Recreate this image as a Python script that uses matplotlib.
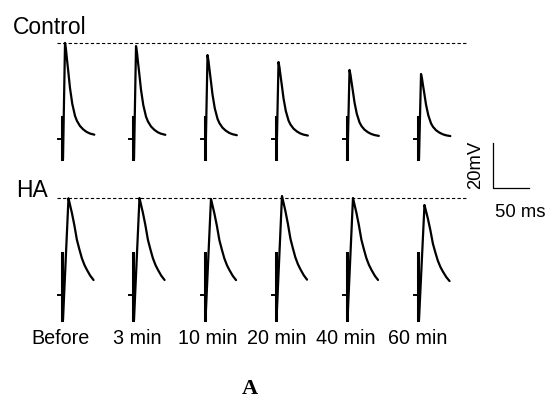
import numpy as np
import matplotlib.pyplot as plt

# --- data ---
conditions = ["Control", "HA"]
time_labels = ["Before", "3 min", "10 min", "20 min", "40 min", "60 min"]

# peak amplitude of each response (mV above baseline)
control_peak_mv = [42.7, 41.3, 37.3, 34.2, 30.7, 28.9]
ha_peak_mv = [43.0, 43.1, 42.7, 44.0, 43.1, 40.0]

# shape of the response after the stimulus: time (ms) and fraction of peak
control_t_ms = [3.5, 4.9, 6.3, 8.1, 10.4, 13.6, 17.4, 20.1, 24.3, 28.9, 33.6, 38.2, 44.2]
control_frac = [1.0, 0.927, 0.823, 0.698, 0.531, 0.365, 0.240, 0.188, 0.135,
                0.099, 0.073, 0.057, 0.045]
ha_t_ms = [8.3, 10.5, 13.0, 16.5, 20.0, 23.5, 26.9, 30.5, 33.9, 38.5, 43.1]
ha_frac = [1.0, 0.93, 0.85, 0.72, 0.57, 0.47, 0.38, 0.31, 0.26, 0.20, 0.155]

# stimulus artifact, top and bottom (mV from baseline)
control_artifact_mv = [9.8, -8.9]
ha_artifact_mv = [18.7, -11.0]

scale_mv = 20
scale_ms = 50

# --- layout (pixel positions on a 545x399 canvas) ---
W, H = 545, 399
MS_PER_PX = 50 / 36.0
MV_PER_PX = 20 / 45.0
trace_x_px = [62.5, 133.5, 205, 276, 347, 418.5]
label_x_px = [60.5, 137, 208, 276.5, 345.5, 418]
row_base_px = [139, 295]


def px(x, y):
    return x * MS_PER_PX, -y * MV_PER_PX


fig = plt.figure(figsize=(W / 100, H / 100), dpi=100)
ax = fig.add_axes([0, 0, 1, 1])
ax.set_xlim(0, W * MS_PER_PX)
ax.set_ylim(-H * MV_PER_PX, 0)
ax.axis('off')

rows = [
    (control_peak_mv, control_t_ms, control_frac, control_artifact_mv),
    (ha_peak_mv, ha_t_ms, ha_frac, ha_artifact_mv),
]

for (peaks, t_ms, frac, art), base_px in zip(rows, row_base_px):
    _, base = px(0, base_px)
    for xp, amp in zip(trace_x_px, peaks):
        x0, _ = px(xp, 0)
        # baseline tick and stimulus artifact
        ax.plot([x0 - 6, x0], [base, base], color='black', lw=1.4)
        ax.plot([x0 - 0.5, x0 - 0.5], [base + art[1], base + art[0]],
                color='black', lw=2.2)
        # response
        tx = np.array([0.7] + t_ms) + x0
        vy = np.array([art[1]] + [f * amp for f in frac]) + base
        ax.plot(tx, vy, color='black', lw=1.6, solid_joinstyle='round',
                solid_capstyle='round')
    # dashed reference at the "Before" peak
    xa, _ = px(57, 0)
    xb, _ = px(467, 0)
    ax.plot([xa, xb], [base + peaks[0]] * 2, color='black', lw=0.8,
            linestyle=(0, (3, 2)))

# row names
ax.text(*px(12.5, 34), "Control", fontsize=16.5, family='Liberation Sans',
        ha='left', va='baseline')
ax.text(*px(16.5, 197), "HA", fontsize=16.5, family='Liberation Sans',
        ha='left', va='baseline')

# time labels
for xp, lab in zip(label_x_px, time_labels):
    ax.text(*px(xp, 344), lab, fontsize=14.2, family='Liberation Sans',
            ha='center', va='baseline')

# scale bar
sx, sy = px(493, 188)
ax.plot([sx, sx, sx + scale_ms], [sy + scale_mv, sy, sy], color='black', lw=0.9)
ax.text(*px(476, 165), f"{scale_mv}mV", fontsize=13.3, family='Liberation Sans',
        rotation=90, ha='center', va='center')
ax.text(*px(520, 217), f"{scale_ms} ms", fontsize=13.3, family='Liberation Sans',
        ha='center', va='baseline')

ax.text(*px(250, 394), "A", fontsize=16, family='Liberation Serif',
        fontweight='bold', ha='center', va='baseline')

fig.savefig('out.png', dpi=100)
